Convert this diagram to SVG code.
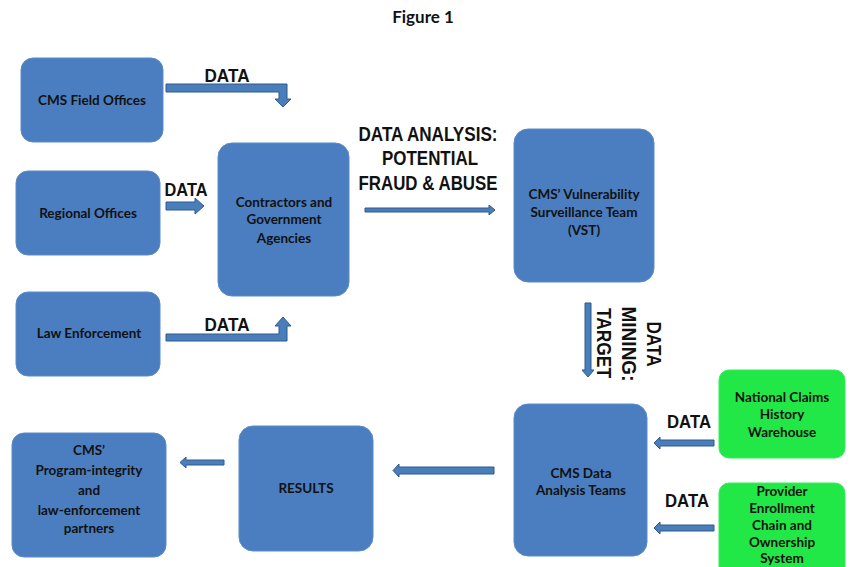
<svg xmlns="http://www.w3.org/2000/svg" width="850" height="567" viewBox="0 0 850 567">
<style>
.box{fill:#4A7EC0;stroke:#5B8BC8;stroke-width:1}
.gbox{fill:#21E846;stroke:#3BEB5C;stroke-width:1}
.t{font-family:Lato,"Open Sans","Liberation Sans",sans-serif;font-weight:bold;font-size:13.5px;fill:#111;text-anchor:middle}
.lbl{font-family:"Liberation Sans",Arial,sans-serif;font-weight:bold;font-size:18px;fill:#111;text-anchor:middle}
.arr{fill:#4A7EBB;stroke:#2F5A8C;stroke-width:1;stroke-linejoin:miter}
</style>
<text x="423" y="23" style="font-family:Lato,'Open Sans',sans-serif;font-size:17px;font-weight:bold;fill:#111;text-anchor:middle">Figure 1</text>

<g id="field-offices"><rect class="box" x="21" y="58" width="142" height="84" rx="12"/><text class="t" x="92" y="105">CMS Field Offices</text></g>
<g id="regional-offices"><rect class="box" x="16" y="171" width="144" height="84" rx="12"/><text class="t" x="88" y="218">Regional Offices</text></g>
<g id="law-enforcement"><rect class="box" x="16" y="292" width="144" height="84" rx="12"/><text class="t" x="89" y="338">Law Enforcement</text></g>
<g id="contractors"><rect class="box" x="218" y="143" width="131" height="153" rx="14"/>
<text class="t" x="284" y="207">Contractors and</text><text class="t" x="284" y="224">Government</text><text class="t" x="284" y="243">Agencies</text></g>
<g id="vst"><rect class="box" x="514" y="129" width="140" height="153" rx="14"/>
<text class="t" x="584" y="199">CMS’ Vulnerability</text><text class="t" x="584" y="217">Surveillance Team</text><text class="t" x="584" y="235">(VST)</text></g>
<g id="data-analysis-teams"><rect class="box" x="514" y="404" width="133" height="152" rx="14"/>
<text class="t" x="581" y="478">CMS Data</text><text class="t" x="581" y="495">Analysis Teams</text></g>
<g id="national-claims"><rect class="gbox" x="719" y="370" width="126" height="88" rx="10"/>
<text class="t" x="782" y="402">National Claims</text><text class="t" x="782" y="419">History</text><text class="t" x="782" y="437">Warehouse</text></g>
<g id="provider-enrollment"><rect class="gbox" x="719" y="483" width="126" height="100" rx="10"/>
<text class="t" x="782" y="496">Provider</text><text class="t" x="782" y="513">Enrollment</text><text class="t" x="782" y="530">Chain and</text><text class="t" x="782" y="547">Ownership</text><text class="t" x="782" y="563">System</text></g>
<g id="results"><rect class="box" x="239" y="426" width="134" height="125" rx="14"/><text class="t" x="306" y="493">RESULTS</text></g>
<g id="partners"><rect class="box" x="12" y="433" width="154" height="124" rx="12"/>
<text class="t" x="89" y="455">CMS’</text><text class="t" x="89" y="475">Program-integrity</text><text class="t" x="89" y="495">and</text><text class="t" x="89" y="515">law-enforcement</text><text class="t" x="89" y="533">partners</text></g>

<g id="connectors">
<polygon class="arr" points="166,84 287,84 287,99 291,99 283,107 275,99 279,99 279,92 166,92"/>
<polygon class="arr" points="166,202 195,202 195,198 204,206 195,214 195,210 166,210"/>
<polygon class="arr" points="166,334 279,334 279,326 275,326 283,317 291,326 287,326 287,341 166,341"/>
<polygon class="arr" points="365,208 489,208 489,205 495,210 489,215 489,212 365,212"/>
<polygon class="arr" points="585,303 591,303 591,370 594,370 588,377 582,370 585,370"/>
<polygon class="arr" points="714,440 660,440 660,437 654,443 660,449 660,446 714,446"/>
<polygon class="arr" points="714,525 660,525 660,522 654,528 660,534 660,531 714,531"/>
<polygon class="arr" points="494,467 399,467 399,464 393,470.5 399,477 399,474 494,474"/>
<polygon class="arr" points="224,460 186,460 186,457 180,462.5 186,468 186,465 224,465"/>
<text class="lbl" x="227" y="82" textLength="45" lengthAdjust="spacingAndGlyphs">DATA</text>
<text class="lbl" x="186" y="196" textLength="43" lengthAdjust="spacingAndGlyphs">DATA</text>
<text class="lbl" x="227" y="331" textLength="45" lengthAdjust="spacingAndGlyphs">DATA</text>
<text class="lbl" x="689" y="428" textLength="44" lengthAdjust="spacingAndGlyphs">DATA</text>
<text class="lbl" x="687" y="507" textLength="44" lengthAdjust="spacingAndGlyphs">DATA</text>
<text class="lbl" x="428" y="141" style="font-size:21px" textLength="139" lengthAdjust="spacingAndGlyphs">DATA ANALYSIS:</text>
<text class="lbl" x="430" y="165" style="font-size:21px" textLength="96" lengthAdjust="spacingAndGlyphs">POTENTIAL</text>
<text class="lbl" x="428" y="190" style="font-size:21px" textLength="139" lengthAdjust="spacingAndGlyphs">FRAUD &amp; ABUSE</text>
<text class="lbl" transform="translate(647,344) rotate(90)" style="font-size:21px" textLength="45" lengthAdjust="spacingAndGlyphs">DATA</text>
<text class="lbl" transform="translate(622,344) rotate(90)" style="font-size:21px" textLength="75" lengthAdjust="spacingAndGlyphs">MINING:</text>
<text class="lbl" transform="translate(597,343) rotate(90)" style="font-size:21px" textLength="70" lengthAdjust="spacingAndGlyphs">TARGET</text>
</g>
</svg>
